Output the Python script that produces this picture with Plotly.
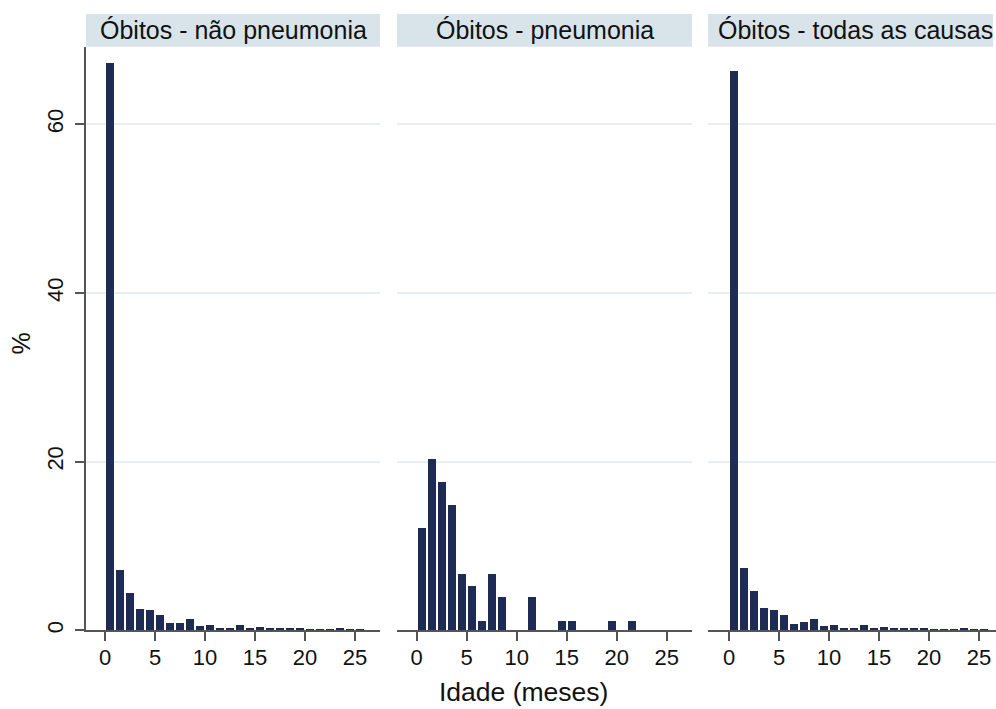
import plotly.graph_objects as go

# Age in completed months (bin starts) and percentage of deaths per bin
idade = list(range(26))
nao_pneumonia = [67.3, 7.2, 4.5, 2.5, 2.4, 1.8, 0.9, 0.9, 1.35, 0.5, 0.63, 0.28, 0.31,
                 0.67, 0.31, 0.43, 0.35, 0.35, 0.35, 0.31, 0.16, 0.2, 0.12, 0.28, 0.12, 0.12]
pneumonia = [12.2, 20.35, 17.6, 14.9, 6.65, 5.3, 1.18, 6.65, 3.94, 0, 0, 3.94, 0,
             0, 1.18, 1.18, 0, 0, 0, 1.18, 0, 1.18, 0, 0, 0, 0]
todas_causas = [66.3, 7.36, 4.69, 2.68, 2.44, 1.85, 0.83, 0.98, 1.38, 0.51, 0.63, 0.31, 0.35,
                0.71, 0.35, 0.47, 0.35, 0.35, 0.35, 0.31, 0.16, 0.24, 0.12, 0.28, 0.12, 0.12]

paineis = ["Óbitos - não pneumonia", "Óbitos - pneumonia", "Óbitos - todas as causas"]
series = [nao_pneumonia, pneumonia, todas_causas]
yticks = [0, 20, 40, 60]
xticks = [0, 5, 10, 15, 20, 25]

W, H = 996, 709
BAR = "#1e2b54"
STRIP = "#d8e4ea"
GRID = "#e8eff2"
AXIS = "#555555"
FONT = "Liberation Sans, Arial, Helvetica, sans-serif"

# panel geometry in pixels
px_domains = [(86, 380), (397, 692), (708, 996)]
x_ranges = [(-1.9, 27.5), (-1.97, 27.53), (-2.1, 26.7)]
plot_top, plot_bottom = 47, 633
strip_top = 14

fig = go.Figure()
for i, vals in enumerate(series):
    fig.add_trace(go.Bar(
        x=[a + 0.5 for a in idade], y=vals, width=0.76,
        marker=dict(color=BAR, line=dict(width=0)),
        xaxis=f"x{i + 1}" if i else "x", yaxis=f"y{i + 1}" if i else "y",
        showlegend=False, hoverinfo="skip",
    ))

y_dom = [1 - plot_bottom / H, 1 - plot_top / H]
layout = dict(
    width=W, height=H, margin=dict(l=0, r=0, t=0, b=0),
    paper_bgcolor="white", plot_bgcolor="white",
    font=dict(family=FONT, color="#111111"),
    bargap=0, shapes=[], annotations=[],
)

for i in range(3):
    sfx = str(i + 1) if i else ""
    x0, x1 = px_domains[i]
    layout[f"xaxis{sfx}"] = dict(
        domain=[x0 / W, x1 / W], range=list(x_ranges[i]), anchor=f"y{sfx}",
        tickvals=xticks, ticks="outside", ticklen=9, tickwidth=1.5, tickcolor=AXIS,
        showline=True, linecolor=AXIS, linewidth=1.5, showgrid=False, zeroline=False,
        tickfont=dict(size=22, family=FONT, color="#111111"), ticklabelstandoff=-2,
        fixedrange=True,
    )
    ya = dict(
        domain=y_dom, range=[0, 69.2], anchor=f"x{sfx}",
        tickvals=yticks, showgrid=True, gridcolor=GRID, gridwidth=1.5,
        zeroline=False, fixedrange=True,
    )
    if i == 0:
        ya.update(ticks="outside", ticklen=9, tickwidth=1.5, tickcolor=AXIS,
                  showline=True, linecolor=AXIS, linewidth=1.5, tickangle=-90,
                  tickfont=dict(size=22, family=FONT, color="#111111"),
                  ticklabelstandoff=3)
    else:
        ya.update(showticklabels=False, ticks="", showline=False)
    layout[f"yaxis{sfx}"] = ya

    # panel header strip
    layout["shapes"].append(dict(
        type="rect", xref="paper", yref="paper",
        x0=x0 / W, x1=min(x1, 993) / W,
        y0=1 - plot_top / H, y1=1 - strip_top / H,
        fillcolor=STRIP, line=dict(width=0), layer="below",
    ))
    centre = (x0 + x1) / 2 if i < 2 else 855
    layout["annotations"].append(dict(
        text=paineis[i], xref="paper", yref="paper",
        x=centre / W, y=1 - (strip_top + plot_top) / 2 / H,
        xanchor="center", yanchor="middle", showarrow=False,
        font=dict(size=25, family=FONT, color="#111111"),
    ))

layout["annotations"].append(dict(
    text="Idade (meses)", xref="paper", yref="paper", x=523 / W, y=1 - 695 / H,
    xanchor="center", yanchor="middle", showarrow=False,
    font=dict(size=26.5, family=FONT, color="#111111"),
))
layout["annotations"].append(dict(
    text="%", xref="paper", yref="paper", x=21 / W, y=1 - 345 / H,
    xanchor="center", yanchor="middle", showarrow=False, textangle=-90,
    font=dict(size=25, family=FONT, color="#111111"),
))

fig.update_layout(**layout)
fig.write_html("out.html")
